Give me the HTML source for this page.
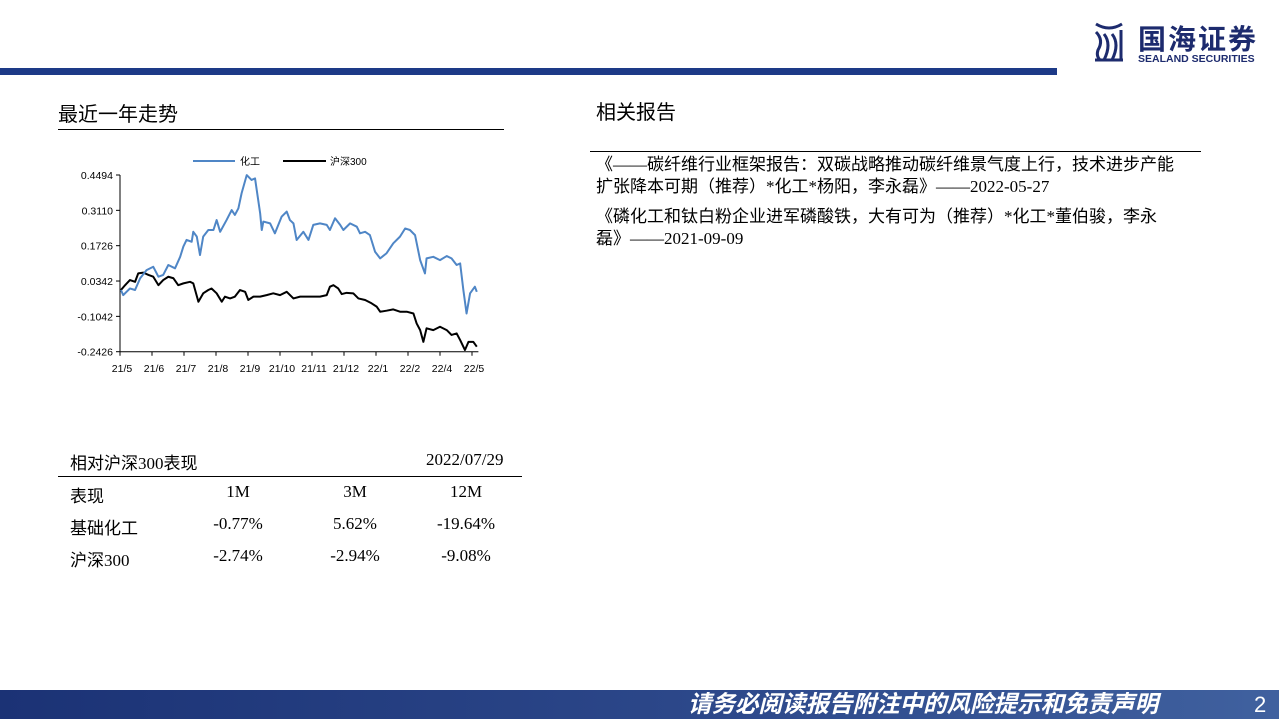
<!DOCTYPE html>
<html><head><meta charset="utf-8">
<style>
body{margin:0;width:1279px;height:719px;position:relative;background:#fff;font-family:"Liberation Serif","Noto Sans CJK SC",serif;overflow:hidden;color:#000}
.a{position:absolute;white-space:nowrap}
.s{font-family:"Liberation Sans","Noto Sans CJK SC",sans-serif}
</style></head><body>
<div class="a" style="left:0;top:68px;width:1057px;height:7px;background:#1d3a87"></div>
<div class="a" style="left:1092px;top:20px;width:180px;height:45px">
<svg width="34" height="44" style="position:absolute;left:0;top:0"><g fill="none" stroke="#1d2b6e" stroke-width="3"><path d="M4 4 Q17 12 30 4"/><path d="M4 12 Q12 20 6 30 Q4 36 8 40"/><path d="M12 14 Q20 24 12 40"/><path d="M20 14 Q28 24 20 40"/><path d="M29 10 V40"/><path d="M3 40 H31"/></g></svg>
<div class="a s" style="left:46px;top:-2px;font-size:28px;font-weight:bold;color:#1d2b6e;letter-spacing:2px">国海证券</div>
<div class="a s" style="left:46px;top:33px;font-size:10.5px;font-weight:bold;color:#1d2b6e">SEALAND SECURITIES</div>
</div>
<div class="a s" style="left:58px;top:98px;font-size:20px">最近一年走势</div>
<div class="a" style="left:58px;top:129px;width:446px;height:1px;background:#000"></div>
<div class="a s" style="left:596px;top:96px;font-size:20px">相关报告</div>
<div class="a" style="left:590px;top:151px;width:611px;height:1px;background:#000"></div>
<div class="a" style="left:596px;top:154px;font-size:17px;line-height:22px">《——碳纤维行业框架报告：双碳战略推动碳纤维景气度上行，技术进步产能<br>扩张降本可期（推荐）*化工*杨阳，李永磊》——2022-05-27</div>
<div class="a" style="left:596px;top:206px;font-size:17px;line-height:22px">《磷化工和钛白粉企业进军磷酸铁，大有可为（推荐）*化工*董伯骏，李永<br>磊》——2021-09-09</div>

<svg class="a" style="left:0;top:0" width="560" height="400" id="chart"></svg>

<div class="a" style="left:70px;top:449px;font-size:17px">相对沪深300表现</div>
<div class="a" style="left:426px;top:450px;font-size:17px">2022/07/29</div>
<div class="a" style="left:58px;top:476px;width:464px;height:1px;background:#000"></div>
<div id="tbl"></div>

<div class="a" style="left:0;top:690px;width:1279px;height:29px;background:linear-gradient(90deg,#1b3275,#2e4a8c 60%,#40619f)"></div>
<div class="a s" style="left:688px;top:690px;font-size:23.5px;font-weight:bold;font-style:italic;color:#fff;line-height:29px">请务必阅读报告附注中的风险提示和免责声明</div>
<div class="a s" style="left:1254px;top:690px;font-size:22px;color:#fff;line-height:29px">2</div>

<script>
const xLabels=["21/5","21/6","21/7","21/8","21/9","21/10","21/11","21/12","22/1","22/2","22/4","22/5"];
const yTicks=[0.4494,0.3110,0.1726,0.0342,-0.1042,-0.2426];
const chemT=[0.03,0.10,0.31,0.47,0.63,0.83,1.04,1.20,1.35,1.51,1.72,1.88,1.98,2.08,2.24,2.29,2.40,2.50,2.60,2.76,2.92,3.02,3.13,3.33,3.49,3.59,3.70,3.80,3.96,4.11,4.22,4.38,4.43,4.48,4.69,4.84,5.05,5.21,5.31,5.42,5.52,5.73,5.89,6.04,6.25,6.46,6.56,6.72,6.88,6.98,7.19,7.40,7.50,7.66,7.81,7.97,8.13,8.33,8.54,8.75,8.91,9.06,9.22,9.38,9.53,9.58,9.79,10.0,10.21,10.36,10.52,10.63,10.73,10.83,10.94,11.09,11.15];
const chemV=[-0.001,-0.021,0.005,-0.001,0.045,0.077,0.090,0.051,0.058,0.097,0.084,0.129,0.169,0.195,0.188,0.227,0.208,0.136,0.208,0.234,0.234,0.273,0.227,0.273,0.312,0.293,0.319,0.378,0.449,0.430,0.436,0.299,0.234,0.267,0.260,0.221,0.286,0.306,0.273,0.260,0.195,0.227,0.195,0.254,0.260,0.254,0.234,0.280,0.254,0.234,0.260,0.247,0.221,0.227,0.214,0.149,0.123,0.143,0.182,0.208,0.240,0.234,0.214,0.116,0.064,0.123,0.129,0.116,0.132,0.123,0.097,0.103,-0.001,-0.093,-0.014,0.012,-0.008];
const hsT=[0.03,0.16,0.31,0.47,0.57,0.73,0.89,1.04,1.20,1.35,1.51,1.67,1.82,1.98,2.19,2.29,2.45,2.60,2.76,2.86,3.02,3.18,3.28,3.44,3.59,3.75,3.91,4.01,4.17,4.38,4.58,4.79,5.00,5.21,5.42,5.63,5.83,6.04,6.25,6.46,6.56,6.67,6.82,6.93,7.08,7.29,7.45,7.66,7.86,8.02,8.13,8.33,8.54,8.75,8.96,9.17,9.27,9.38,9.48,9.58,9.79,10.0,10.21,10.36,10.52,10.63,10.78,10.89,11.04,11.15];
const hsV=[-0.001,0.018,0.038,0.031,0.064,0.067,0.058,0.051,0.018,0.038,0.051,0.045,0.018,0.025,0.031,0.025,-0.047,-0.014,-0.001,0.005,-0.014,-0.047,-0.027,-0.034,-0.027,-0.001,-0.008,-0.040,-0.027,-0.027,-0.021,-0.014,-0.021,-0.008,-0.034,-0.027,-0.027,-0.027,-0.027,-0.021,0.012,0.018,0.005,-0.017,-0.012,-0.014,-0.034,-0.040,-0.053,-0.066,-0.086,-0.082,-0.077,-0.086,-0.086,-0.093,-0.132,-0.158,-0.204,-0.151,-0.158,-0.145,-0.158,-0.177,-0.171,-0.197,-0.236,-0.204,-0.204,-0.223];
const rows=[["表现","1M","3M","12M"],["基础化工","-0.77%","5.62%","-19.64%"],["沪深300","-2.74%","-2.94%","-9.08%"]];

const NS="http://www.w3.org/2000/svg",svg=document.getElementById('chart');
const X=m=>120+m*32, Y=v=>175+(0.4494-v)/0.692*176.7;
function mk(t,a){const e=document.createElementNS(NS,t);for(const k in a)e.setAttribute(k,a[k]);svg.appendChild(e);return e;}
let ax=mk('path',{d:`M120 ${Y(0.4494)} V${Y(-0.2426)} H${X(11.2)}`,stroke:'#000','stroke-width':1,fill:'none'});


yTicks.forEach(v=>{mk('line',{x1:116,x2:120,y1:Y(v),y2:Y(v),stroke:'#000'});
 const t=mk('text',{x:113,y:Y(v)+4,'text-anchor':'end','font-size':10.5,'font-family':'Liberation Sans'});t.textContent=v.toFixed(4);
 
 });
xLabels.forEach((l,i)=>{mk('line',{x1:X(i),x2:X(i),y1:Y(-0.2426),y2:Y(-0.2426)+4,stroke:'#000'});
 const t=mk('text',{x:X(i)+2,y:372,'text-anchor':'middle','font-size':10.5,'font-family':'Liberation Sans'});t.textContent=l;
 
 });
function line(T,V,c,n){const p=mk('polyline',{points:T.map((t,i)=>X(t)+','+Y(V[i])).join(' '),fill:'none',stroke:c,'stroke-width':2,'stroke-linejoin':'round'});
 
 }
line(hsT,hsV,'#000','hs300-line');
line(chemT,chemV,'#4f86c6','chem-line');
mk('line',{x1:193,x2:235,y1:161,y2:161,stroke:'#4f86c6','stroke-width':2});
let l1=mk('text',{x:240,y:165,'font-size':10,'font-family':'Noto Sans CJK SC'});l1.textContent='化工';


mk('line',{x1:283,x2:326,y1:161,y2:161,stroke:'#000','stroke-width':2});
let l2=mk('text',{x:330,y:165,'font-size':10,'font-family':'Liberation Sans, Noto Sans CJK SC'});l2.textContent='沪深300';



const tbl=document.getElementById('tbl'),cx=[70,238,355,466];
rows.forEach((r,ri)=>r.forEach((c,ci)=>{const d=document.createElement('div');d.className='a';
 
 
 d.style.top=(482+ri*32)+'px';d.style.fontSize='17px';d.textContent=c;
 if(ci==0)d.style.left=cx[0]+'px';else{d.style.left=(cx[ci]-60)+'px';d.style.width='120px';d.style.textAlign='center';}
 tbl.appendChild(d);}));
</script>
</body></html>
